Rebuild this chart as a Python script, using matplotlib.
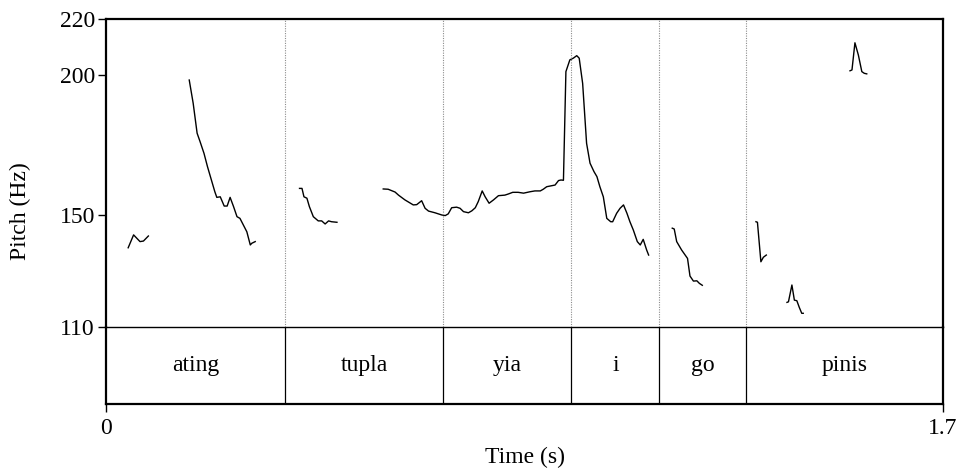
import matplotlib.pyplot as plt

plt.rcParams['font.family'] = ['Liberation Serif', 'DejaVu Serif']

# Pitch track, one list pair per voiced stretch (time in s, F0 in Hz)
seg1_t = [0.045, 0.056, 0.069, 0.076, 0.086]
seg1_f = [138.3, 142.9, 140.5, 140.7, 142.5]

seg2_t = [0.169, 0.177, 0.185, 0.191, 0.199, 0.206, 0.215, 0.221, 0.225, 0.232,
          0.240, 0.246, 0.252, 0.259, 0.266, 0.272, 0.279, 0.286, 0.293, 0.296, 0.303]
seg2_f = [198.2, 189.9, 179.2, 176.2, 172.0, 167.3, 161.9, 158.3, 156.3, 156.5,
          153.2, 153.2, 156.3, 153.0, 149.4, 148.8, 146.4, 144.0, 139.3, 139.9, 140.5]

seg3_t = [0.393, 0.398, 0.402, 0.408, 0.413, 0.421, 0.431, 0.438, 0.445, 0.452, 0.458, 0.469]
seg3_f = [159.5, 159.5, 156.5, 156.0, 153.0, 149.4, 147.9, 147.9, 146.8, 147.9, 147.6, 147.4]

seg4_t = [0.563, 0.573, 0.587, 0.594, 0.607, 0.624, 0.631, 0.641, 0.648, 0.655,
          0.668, 0.682, 0.689, 0.695, 0.702, 0.712, 0.719, 0.726, 0.736, 0.743,
          0.750, 0.756, 0.764, 0.770, 0.778, 0.787, 0.797, 0.810, 0.817, 0.826,
          0.837, 0.848, 0.861, 0.871, 0.882, 0.888, 0.895, 0.912, 0.919, 0.924,
          0.929, 0.934, 0.942, 0.949, 0.956, 0.961, 0.968, 0.976, 0.983, 0.991,
          0.997, 1.003, 1.010, 1.017, 1.025, 1.029, 1.037, 1.044, 1.051, 1.058,
          1.064, 1.071, 1.079, 1.085, 1.091, 1.098, 1.102]
seg4_f = [159.3, 159.2, 158.2, 157.1, 155.4, 153.6, 153.7, 155.1, 152.4, 151.4,
          150.8, 150.0, 149.8, 150.4, 152.6, 152.8, 152.4, 151.2, 150.8, 151.5,
          152.6, 154.8, 158.6, 156.5, 154.2, 155.4, 156.9, 157.1, 157.5, 158.1,
          158.1, 157.8, 158.3, 158.6, 158.6, 159.2, 160.1, 160.7, 162.3, 162.5,
          162.4, 201.2, 205.4, 206.0, 206.9, 206.0, 197.0, 175.6, 168.5, 165.5,
          163.7, 160.1, 156.5, 148.8, 147.6, 147.6, 150.6, 152.4, 153.6, 150.6,
          147.6, 144.6, 140.5, 139.3, 141.3, 137.5, 135.7]

seg5_t = [1.150, 1.154, 1.159, 1.169, 1.181, 1.186, 1.193, 1.200, 1.205, 1.211]
seg5_f = [145.3, 145.0, 140.5, 137.5, 134.5, 128.2, 126.4, 126.5, 125.6, 124.9]

seg6_t = [1.320, 1.323, 1.330, 1.335, 1.341]
seg6_f = [147.6, 147.4, 133.3, 134.9, 135.7]

seg7_t = [1.383, 1.386, 1.393, 1.398, 1.403, 1.408, 1.413, 1.416]
seg7_f = [118.8, 119.0, 125.0, 119.6, 119.4, 117.0, 114.9, 114.9]

seg8_t = [1.511, 1.515, 1.521, 1.528, 1.535, 1.540, 1.545]
seg8_f = [201.5, 201.8, 211.5, 207.1, 201.2, 200.6, 200.4]

segments = [(seg1_t, seg1_f), (seg2_t, seg2_f), (seg3_t, seg3_f), (seg4_t, seg4_f),
            (seg5_t, seg5_f), (seg6_t, seg6_f), (seg7_t, seg7_f), (seg8_t, seg8_f)]

# Word tier
boundaries = [0.364, 0.685, 0.945, 1.124, 1.299]
words = ['ating', 'tupla', 'yia', 'i', 'go', 'pinis']

t_min, t_max = 0.0, 1.7
f_min, f_max = 110, 220
f_ticks = [110, 150, 200, 220]

fs = 17

fig = plt.figure(figsize=(9.63, 4.71), dpi=100)
tier = fig.add_axes([0.1101, 0.1423, 0.8692, 0.1635])
ax = fig.add_axes([0.1101, 0.3057, 0.8692, 0.654], sharex=tier)
ax.patch.set_visible(False)

for t, f in segments:
    ax.plot(t, f, color='black', lw=1.0)

for b in boundaries:
    ax.axvline(b, color='#8c8c8c', lw=0.8, ls=(0, (1, 1.2)))
    tier.axvline(b, color='black', lw=0.9)

ax.set_xlim(t_min, t_max)
ax.set_ylim(f_min, f_max)
ax.set_yticks(f_ticks)
ax.tick_params(axis='y', direction='out', length=6, width=1, labelsize=fs, pad=2)
ax.tick_params(axis='x', bottom=False, labelbottom=False)
for side in ['left', 'right', 'top']:
    ax.spines[side].set_linewidth(1.6)
ax.spines['bottom'].set_linewidth(1.0)

edges = [t_min] + boundaries + [t_max]
for i, w in enumerate(words):
    tier.text((edges[i] + edges[i + 1]) / 2, 0.5, w, ha='center', va='center', fontsize=fs)
tier.set_ylim(0, 1)
tier.set_yticks([])
tier.set_xticks([t_min, t_max])
tier.set_xticklabels(['0', '1.7'])
tier.tick_params(axis='x', direction='out', length=6, width=1, labelsize=fs, pad=4)
for side in ['left', 'right', 'bottom']:
    tier.spines[side].set_linewidth(1.6)
tier.spines['top'].set_visible(False)
tier.set_xlabel('Time (s)', fontsize=fs, labelpad=6)

fig.text(0.021, 1 - 211 / 471, 'Pitch (Hz)', rotation=90, ha='center', va='center', fontsize=fs)

fig.savefig('out.png', dpi=100)
